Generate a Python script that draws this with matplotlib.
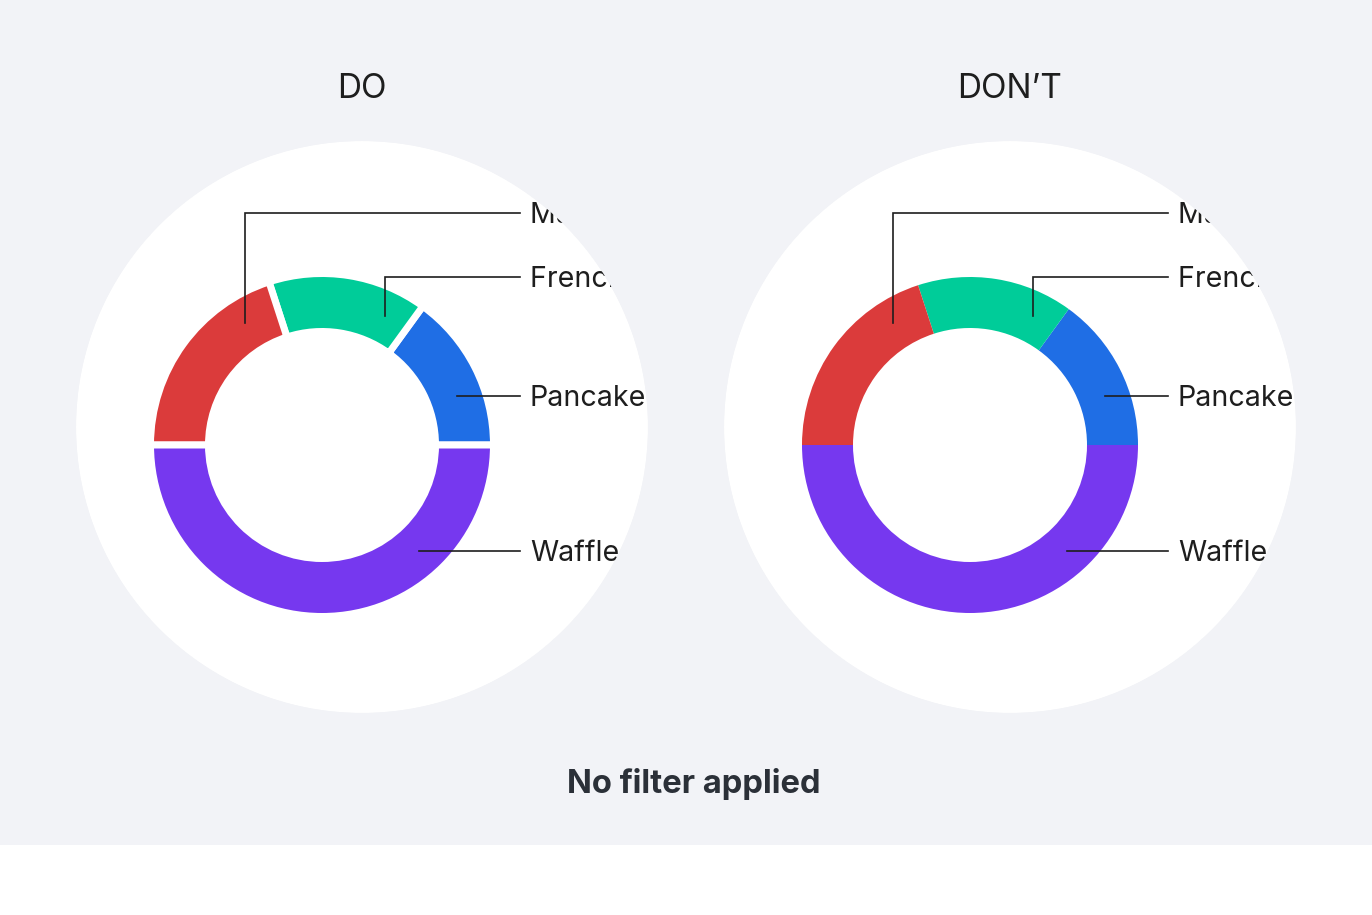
import matplotlib
matplotlib.use("Agg")
import matplotlib.pyplot as plt
from matplotlib.patches import Circle, Rectangle, PathPatch
from matplotlib.path import Path
import numpy as np

# ---------------- data ----------------
categories = ["Pancake", "French toast", "Muffin", "Waffle"]
values = [15, 15, 20, 50]
colors = ["#1f6ee5", "#00cc99", "#db3b3b", "#7638ef"]
panel_titles = ["DO", "DON\u2019T"]
caption = "No filter applied"

# ---------------- layout (pixels) ----------------
W, H = 1372, 915
FONT = "Inter"
BG = "#f2f3f7"
panel_cx = [362, 1010]          # white disc centres
disc_cy = 427
disc_r = 286
donut_dx, donut_cy = -40, 445   # donut centre relative to disc
R_OUT, R_IN = 168, 117
gap_px = [7, 0]                 # white separators in the DO panel only
anchor_angle = [20.0, 64.0, 122.4, -47.8]    # leader anchor angles (deg)
label_dy = [49, 168, 232, -106]              # label line height above donut centre
label_vertical = [False, True, True, False]  # leader goes up first
anchor_r = 144
line_end_dx, text_dx = 198, 208
LABEL_FS, TITLE_FS, CAP_FS = 20.6, 24, 23.6

fig = plt.figure(figsize=(W / 100, H / 100), dpi=100)
fig.patch.set_facecolor("white")
ax = fig.add_axes([0, 0, 1, 1])


def Y(py):
    return H - py


ax.add_patch(Rectangle((0, Y(845)), W, 845, facecolor=BG,
                       edgecolor="none", zorder=0))

for p, pcx in enumerate(panel_cx):
    disc = Circle((pcx, Y(disc_cy)), disc_r, facecolor="white",
                  edgecolor="none", zorder=1)
    ax.add_patch(disc)

    cx, cy = pcx + donut_dx, donut_cy
    g = gap_px[p]
    wedges, _ = ax.pie(values, colors=colors, startangle=0, counterclock=True,
                       radius=R_OUT + g / 2, center=(cx, Y(cy)),
                       wedgeprops=dict(width=R_OUT - R_IN + g,
                                       edgecolor="white",
                                       linewidth=g * 72 / 100 if g else 0))
    for w in wedges:
        w.set_zorder(2)

    for i, cat in enumerate(categories):
        a = np.deg2rad(anchor_angle[i])
        axp = cx + anchor_r * np.cos(a)
        ayp = cy - anchor_r * np.sin(a)
        ly = cy - label_dy[i]
        if label_vertical[i]:
            xs = [axp, axp, cx + line_end_dx]
            ys = [ayp, ly, ly]
        else:
            xs = [axp, cx + line_end_dx]
            ys = [ly, ly]
        ax.plot(xs, [Y(v) for v in ys], color="#1e1e1e", lw=1.2,
                solid_joinstyle="miter", zorder=3)
        ax.text(cx + text_dx, Y(ly + 0.36 * LABEL_FS * 100 / 72), cat,
                fontsize=LABEL_FS, family=FONT, color="#1e1e1e",
                ha="left", va="baseline", zorder=4)

    # mask: background colour outside the white disc hides label overflow
    x0, x1 = pcx - disc_r - 4, pcx + disc_r + 60
    y0, y1 = Y(disc_cy + disc_r + 4), Y(disc_cy - disc_r - 4)
    rect_v = [(x0, y0), (x0, y1), (x1, y1), (x1, y0), (x0, y0)]
    th = np.linspace(0, 2 * np.pi, 721)
    circ_v = list(zip(pcx + disc_r * np.cos(th), Y(disc_cy) + disc_r * np.sin(th)))
    verts = rect_v + circ_v
    codes = ([Path.MOVETO] + [Path.LINETO] * 3 + [Path.CLOSEPOLY]
             + [Path.MOVETO] + [Path.LINETO] * (len(circ_v) - 2) + [Path.CLOSEPOLY])
    ax.add_patch(PathPatch(Path(verts, codes), facecolor=BG,
                           edgecolor="none", zorder=5))

    ax.text(pcx, Y(98), panel_titles[p], fontsize=TITLE_FS, family=FONT,
            color="#1e1e1e", ha="center", va="baseline", zorder=6)

ax.text(694, Y(792.5), caption, fontsize=CAP_FS, family=FONT, fontweight="bold",
        color="#2b3038", ha="center", va="baseline", zorder=6)

ax.set_xlim(0, W)
ax.set_ylim(0, H)
ax.set_aspect("equal")
ax.axis("off")

fig.savefig("out.png", dpi=100, facecolor="white")
